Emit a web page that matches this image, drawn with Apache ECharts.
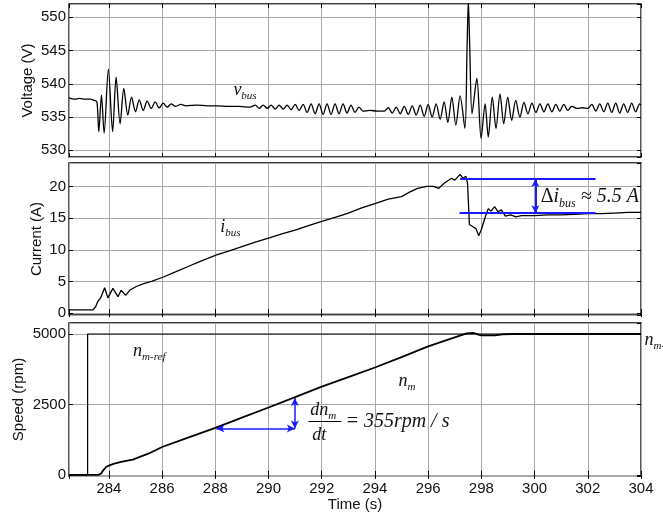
<!DOCTYPE html>
<html>
<head>
<meta charset="utf-8">
<script src="https://cdn.jsdelivr.net/npm/echarts@6.0.0/dist/echarts.min.js"></script>
<style>
html, body { margin: 0; padding: 0; background: #fff; }
#chart { width: 663px; height: 519px; }
</style>
</head>
<body>
<div id="chart"></div>
<script>
// time axis (s)
var timeRange = [282.5, 304]

// bus voltage v_bus, [t, V]
var voltage = [
    [282.5, 537.9], [282.7, 537.7], [282.9, 537.8], [283.1, 537.7], [283.3, 537.7], [283.45, 537.5], [283.55, 537.3],
    [283.62, 532.8], [283.72, 538.3], [283.82, 532.6], [283.98, 542.2], [284.14, 532.8], [284.27, 541.0], [284.42, 534.0],
    [284.56, 539.3], [284.71, 535.3], [284.85, 538.0], [285.0, 535.8], [285.14, 537.6], [285.29, 536.0], [285.44, 537.4],
    [285.59, 536.3], [285.74, 537.3], [285.89, 536.4], [286.04, 537.1], [286.19, 536.5], [286.34, 537.0], [286.5, 536.6],
    [286.7, 536.9], [286.9, 536.7], [287.3, 536.8], [287.7, 536.7], [288.1, 536.7], [288.5, 536.6], [288.9, 536.6],
    [289.3, 536.5], [289.5, 536.8], [289.65, 536.3], [289.8, 536.8], [289.95, 536.3], [290.1, 536.8], [290.25, 536.2],
    [290.4, 536.8], [290.55, 536.2], [290.7, 536.8], [290.85, 536.1], [291.0, 536.9], [291.15, 536.0], [291.3, 536.9],
    [291.45, 535.7], [291.6, 537.0], [291.75, 535.5], [291.9, 537.0], [292.05, 535.4], [292.2, 537.0], [292.35, 535.4],
    [292.5, 537.0], [292.65, 535.5], [292.8, 537.0], [292.95, 535.6], [293.1, 536.8], [293.25, 535.7], [293.4, 536.5],
    [293.55, 535.9], [293.8, 536.0], [294.1, 535.9], [294.35, 535.9], [294.5, 536.4], [294.65, 535.6], [294.8, 536.5],
    [294.95, 535.5], [295.1, 536.6], [295.25, 535.4], [295.4, 536.7], [295.55, 535.3], [295.7, 536.8], [295.85, 535.1],
    [296.0, 536.9], [296.15, 535.0], [296.3, 537.0], [296.45, 534.7], [296.6, 537.3], [296.74, 534.2], [296.89, 538.0],
    [297.04, 533.8], [297.2, 538.2], [297.38, 533.3], [297.46, 545.0], [297.51, 552.5], [297.56, 546.0], [297.65, 535.5],
    [297.83, 540.8], [297.99, 531.8], [298.14, 537.0], [298.26, 532.0], [298.41, 538.0], [298.55, 533.3], [298.7, 538.5],
    [298.84, 534.0], [298.99, 538.0], [299.14, 534.5], [299.29, 537.5], [299.45, 535.0], [299.6, 537.2], [299.75, 535.5],
    [299.9, 537.1], [300.05, 535.7], [300.2, 537.0], [300.35, 535.8], [300.5, 537.0], [300.65, 535.8], [300.8, 536.9],
    [300.95, 535.9], [301.1, 536.9], [301.25, 536.0], [301.4, 536.6], [301.6, 536.3], [301.8, 536.4], [302.0, 536.3],
    [302.15, 536.9], [302.3, 535.9], [302.45, 537.0], [302.6, 535.8], [302.75, 537.1], [302.9, 535.7], [303.05, 537.1],
    [303.2, 535.6], [303.35, 537.0], [303.5, 535.7], [303.65, 537.1], [303.8, 535.8], [303.95, 537.0], [304.0, 536.8]
]

// bus current i_bus, [t, A]
var current = [
    [282.5, 0.5], [283.0, 0.5], [283.4, 0.5], [283.5, 1.0], [283.58, 1.8], [283.7, 2.5], [283.84, 4.0], [283.96, 2.4],
    [284.15, 3.9], [284.34, 2.6], [284.46, 3.6], [284.63, 2.8], [284.78, 3.6], [285.03, 4.2], [285.28, 4.6], [285.6, 5.0],
    [286.05, 5.7], [286.5, 6.5], [287.0, 7.4], [287.5, 8.3], [288.05, 9.2], [288.5, 9.8], [289.0, 10.5], [289.5, 11.2],
    [290.06, 11.9], [290.5, 12.5], [291.0, 13.1], [291.5, 13.8], [292.0, 14.5], [292.5, 15.1], [293.0, 15.8], [293.5, 16.6],
    [294.0, 17.3], [294.5, 18.0], [295.0, 18.4], [295.3, 19.1], [295.6, 19.7], [295.95, 20.0], [296.2, 20.0], [296.4, 19.7],
    [296.6, 20.5], [296.88, 21.3], [297.0, 21.0], [297.2, 21.9], [297.3, 21.3], [297.42, 21.6], [297.48, 20.5], [297.55, 14.0],
    [297.7, 13.6], [297.8, 13.3], [297.9, 12.2], [298.0, 13.2], [298.14, 15.1], [298.26, 16.5], [298.36, 16.1], [298.5, 16.8],
    [298.62, 16.0], [298.75, 16.3], [298.9, 15.3], [299.1, 15.5], [299.3, 15.2], [299.5, 15.4], [300.0, 15.4], [300.5, 15.5],
    [301.0, 15.5], [301.5, 15.6], [302.0, 15.7], [302.5, 15.7], [303.0, 15.8], [303.5, 15.9], [304.0, 15.9]
]

// motor speed n_m and reference n_m-ref, [t, rpm]
var speed = [
    [282.5, 0], [283.6, 0], [283.7, 40], [283.8, 180], [283.9, 280], [284.0, 330], [284.2, 400], [284.5, 470], [284.9, 540],
    [285.5, 760], [286.0, 990], [287.0, 1330], [288.0, 1666], [289.0, 2030], [290.0, 2390], [291.0, 2760], [292.0, 3130],
    [293.0, 3470], [294.0, 3810], [295.0, 4180], [296.0, 4560], [296.5, 4720], [297.0, 4880], [297.45, 5020], [297.7, 5040],
    [297.85, 4990], [298.0, 4950], [298.5, 4950], [298.8, 4990], [299.2, 5000], [304.0, 5000]
]
var speedRef = [[282.5, 0], [283.2, 0], [283.2, 5000], [304, 5000]]

var sans = 'Liberation Sans, Arial, sans-serif'
var serif = 'Liberation Serif, Times New Roman, serif'
var blue = '#1a1aff'

var rich = {
    m: { fontFamily: serif, fontStyle: 'italic', fontSize: 18, color: '#111' },
    s: { fontFamily: serif, fontStyle: 'italic', fontSize: 11, color: '#111', padding: [12, 0, 0, 0] },
    bm: { fontFamily: serif, fontStyle: 'italic', fontSize: 20, color: '#111' },
    bs: { fontFamily: serif, fontStyle: 'italic', fontSize: 12, color: '#111', padding: [13, 0, 0, 0] },
    bu: { fontFamily: serif, fontSize: 20, color: '#111' },
    q: { fontFamily: serif, fontStyle: 'italic', fontSize: 20, color: '#111' }
}

var gridLine = { show: true, lineStyle: { color: '#a8a8a8', width: 1 } }
var tick = { show: true, inside: true, length: 4, lineStyle: { color: '#000' } }

function xAxisFor(i, pos, labels) {
    return {
        type: 'value', gridIndex: i, position: pos,
        min: timeRange[0], max: timeRange[1], splitNumber: 10, minInterval: 2, maxInterval: 2,
        axisLine: { show: false },
        axisTick: tick,
        splitLine: pos == 'bottom' ? gridLine : { show: false },
        axisLabel: {
            show: labels, showMinLabel: false, margin: 5, fontSize: 15, fontFamily: sans, color: '#111',
            formatter: function (v) { return v % 2 === 0 ? String(v) : '' }
        }
    }
}

function yAxisFor(i, pos, min, max, step, name, gap) {
    return {
        type: 'value', gridIndex: i, position: pos,
        min: min, max: max, splitNumber: 5, minInterval: step, maxInterval: step,
        name: pos == 'left' ? name : '', nameLocation: 'middle', nameGap: gap, nameMoveOverlap: false,
        nameTextStyle: { fontSize: 15, fontFamily: sans, color: '#111' },
        axisLine: { show: false },
        axisTick: tick,
        splitLine: pos == 'left' ? gridLine : { show: false },
        axisLabel: {
            show: pos == 'left', showMinLabel: false, showMaxLabel: false, margin: 3,
            fontSize: 15, fontFamily: sans, color: '#111',
            formatter: function (v) { return v % step === 0 ? String(v) : '' }
        }
    }
}

function note(coord, text, dist) {
    return { coord: coord, label: { formatter: text, distance: dist || 0 } }
}

function notes(list) {
    return {
        silent: true, symbol: 'circle', symbolSize: 1,
        itemStyle: { color: 'rgba(0,0,0,0)' },
        label: { show: true, position: 'right', distance: 0, rich: rich },
        data: list
    }
}

function seg(a, b, ends) {
    return [
        { coord: a, symbol: ends ? 'arrow' : 'none' },
        { coord: b, symbol: ends ? 'arrow' : 'none' }
    ]
}

var xAxes = [xAxisFor(0, 'bottom', false), xAxisFor(1, 'bottom', false), xAxisFor(2, 'bottom', true),
             xAxisFor(0, 'top', false), xAxisFor(1, 'top', false), xAxisFor(2, 'top', false)]
xAxes[2].name = 'Time (s)'
xAxes[2].nameLocation = 'middle'
xAxes[2].nameGap = 21
xAxes[2].nameMoveOverlap = false
xAxes[2].nameTextStyle = { fontSize: 15, fontFamily: sans, color: '#111' }

var yAxes = [
    yAxisFor(0, 'left', 529, 552, 5, 'Voltage (V)', 34),
    yAxisFor(1, 'left', -0.3, 23.7, 5, 'Current (A)', 25),
    yAxisFor(2, 'left', -40, 5390, 2500, 'Speed (rpm)', 43),
    yAxisFor(0, 'right', 529, 552, 5, '', 0),
    yAxisFor(1, 'right', -0.3, 23.7, 5, '', 0),
    yAxisFor(2, 'right', -40, 5390, 2500, '', 0)
]

var box = { left: 69, width: 572, show: true, borderColor: '#000', borderWidth: 1.3 }

var option = {
    animation: false,
    backgroundColor: '#fff',
    grid: [
        Object.assign({ top: 4, height: 153 }, box),
        Object.assign({ top: 163, height: 152 }, box),
        Object.assign({ top: 323, height: 153 }, box)
    ],
    xAxis: xAxes,
    yAxis: yAxes,
    series: [
        {
            name: 'v_bus', type: 'line', xAxisIndex: 0, yAxisIndex: 0, data: voltage,
            showSymbol: false, smooth: 0.3, lineStyle: { color: '#000', width: 1.3 },
            markPoint: notes([note([288.66, 539.0], '{m|v}{s|bus}')])
        },
        {
            name: 'i_bus', type: 'line', xAxisIndex: 1, yAxisIndex: 1, data: current,
            showSymbol: false, lineStyle: { color: '#000', width: 1.3 },
            markPoint: notes([note([288.17, 13.5], '{m|i}{s|bus}'),
                              note([300.21, 18.3], '{bu|Δ}{bm|i}{bs|bus}{bm| ≈ 5.5 A}')]),
            markLine: {
                silent: true, symbol: ['none', 'none'], symbolSize: [6, 8],
                label: { show: false },
                lineStyle: { color: blue, width: 2, type: 'solid' },
                data: [seg([297.2, 21.17], [302.29, 21.17]),
                       seg([297.18, 15.78], [302.29, 15.78]),
                       seg([300.03, 21.17], [300.03, 15.78], true)]
            }
        },
        {
            name: 'n_m-ref', type: 'line', xAxisIndex: 2, yAxisIndex: 2, data: speedRef,
            showSymbol: false, lineStyle: { color: '#000', width: 1.2 },
            markPoint: notes([note([284.89, 4400], '{m|n}{s|m-ref}'),
                              note([304, 4780], '{m|n}{s|m-ref}', 3)])
        },
        {
            name: 'n_m', type: 'line', xAxisIndex: 2, yAxisIndex: 2, data: speed,
            showSymbol: false, lineStyle: { color: '#000', width: 1.8 },
            markPoint: notes([note([294.87, 3330], '{m|n}{s|m}'),
                              note([291.55, 2290], '{m|dn}{s|m}'),
                              note([291.62, 1400], '{m|dt}'),
                              note([292.87, 1901], '{q|= 355rpm / s}')]),
            markLine: {
                silent: true, symbol: ['none', 'none'], symbolSize: [6, 8],
                label: { show: false },
                lineStyle: { color: blue, width: 1.5, type: 'solid' },
                data: [seg([288.04, 1642], [290.99, 1642], true),
                       seg([290.99, 2730], [290.99, 1642], true),
                       [{ coord: [291.5, 1901], symbol: 'none', lineStyle: { color: '#000', width: 1 } },
                        { coord: [292.74, 1901], symbol: 'none' }]]
            }
        }
    ]
}

var chart = echarts.init(document.getElementById('chart'))
chart.setOption(option)
</script>
</body>
</html>
